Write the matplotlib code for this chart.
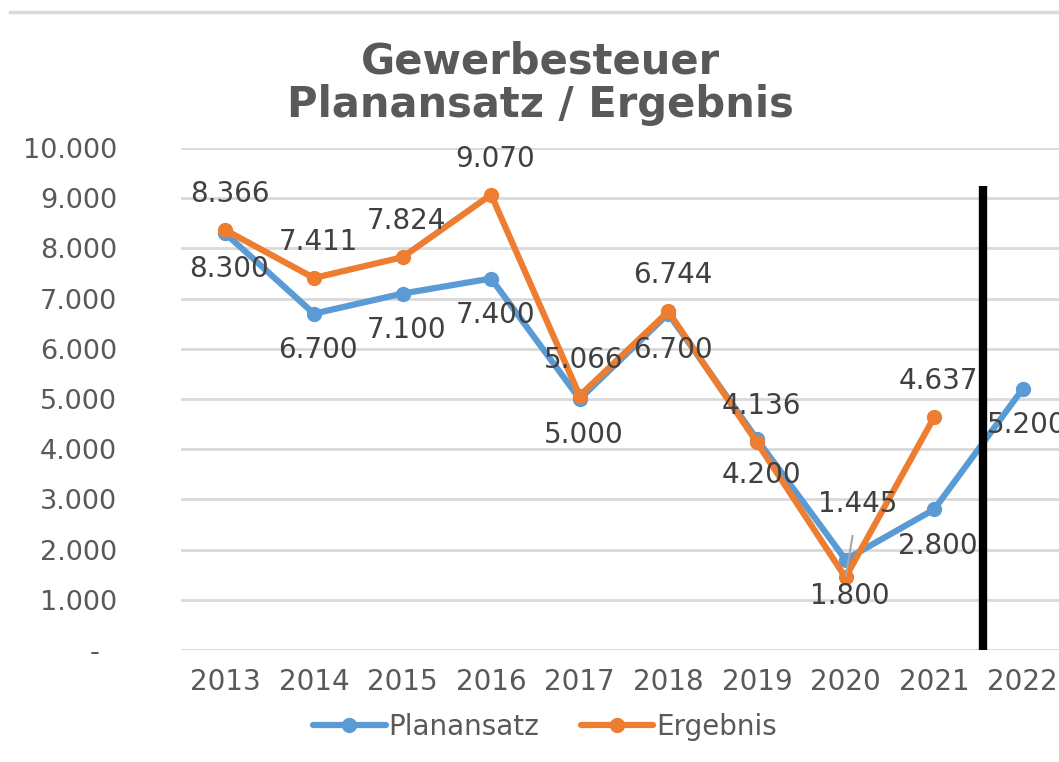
import matplotlib
matplotlib.use("Agg")
import matplotlib.pyplot as plt
from matplotlib.lines import Line2D

years = ["2013", "2014", "2015", "2016", "2017", "2018", "2019", "2020", "2021", "2022"]
planansatz = [8300, 6700, 7100, 7400, 5000, 6700, 4200, 1800, 2800, 5200]
ergebnis = [8366, 7411, 7824, 9070, 5066, 6744, 4136, 1445, 4637, None]
yticks = [0, 1000, 2000, 3000, 4000, 5000, 6000, 7000, 8000, 9000, 10000]
ytick_labels = ["-  ", "1.000", "2.000", "3.000", "4.000", "5.000",
                "6.000", "7.000", "8.000", "9.000", "10.000"]

BLUE = "#5B9BD5"
ORANGE = "#ED7D31"
GRID = "#D9D9D9"
TXT = "#595959"
LBL = "#404040"

plt.rcParams["font.family"] = ["DejaVu Sans"]

fig = plt.figure(figsize=(10.59, 7.62), dpi=100)
ax = fig.add_axes([181/1059, 112/762, 886/1059, 502/762])

x = list(range(len(years)))
ax.plot(x, planansatz, color=BLUE, lw=4.5, marker="o", ms=10, zorder=3,
        solid_capstyle="round", label="Planansatz")
xe = [i for i, v in enumerate(ergebnis) if v is not None]
ye = [v for v in ergebnis if v is not None]
ax.plot(xe, ye, color=ORANGE, lw=4.5, marker="o", ms=10, zorder=4,
        solid_capstyle="round", label="Ergebnis")

def fmt(v):
    return f"{v:,}".replace(",", ".")

for i, v in enumerate(planansatz):
    ax.annotate(fmt(v), (i, v), xytext=(3, -26), textcoords="offset points",
                ha="center", va="center", fontsize=20, color=LBL, zorder=5)
for i, v in zip(xe, ye):
    if years[i] == "2020":
        ax.annotate(fmt(v), (i, v), xytext=(9, 53), textcoords="offset points",
                    ha="center", va="center", fontsize=20, color=LBL, zorder=5,
                    arrowprops=dict(arrowstyle="-", color="#A6A6A6", lw=1.5,
                                    shrinkA=11, shrinkB=1))
    else:
        ax.annotate(fmt(v), (i, v), xytext=(3, 26), textcoords="offset points",
                    ha="center", va="center", fontsize=20, color=LBL, zorder=5)

# black divider between 2021 and 2022
ax.plot([8.55, 8.55], [0, 9250], color="black", lw=6, zorder=10,
        solid_capstyle="butt")

ax.set_xlim(-0.5, 9.5)
ax.set_ylim(0, 10000)
ax.set_xticks(x)
ax.set_xticklabels(years)
ax.set_yticks(yticks)
ax.set_yticklabels(ytick_labels)
ax.tick_params(axis="both", length=0, colors=TXT)
ax.tick_params(axis="y", labelsize=19.5, pad=46)
ax.tick_params(axis="x", labelsize=20, pad=13)
ax.grid(axis="y", color=GRID, lw=2)
ax.set_axisbelow(True)
for s in ax.spines.values():
    s.set_visible(False)

fig.text(540/1059, 1 - 62/762, "Gewerbesteuer", ha="center", va="center",
         fontsize=30, fontweight="bold", color=TXT)
fig.text(540/1059, 1 - 105/762, "Planansatz / Ergebnis", ha="center", va="center",
         fontsize=30, fontweight="bold", color=TXT)

fig.add_artist(Line2D([10/1059, 1], [1 - 12/762, 1 - 12/762], color=GRID, lw=2.5,
                      transform=fig.transFigure))

leg = fig.legend(handles=ax.get_lines()[:2], labels=["Planansatz", "Ergebnis"],
                 loc="center", bbox_to_anchor=(545/1059, 1 - 727/762), ncol=2,
                 frameon=False, fontsize=20, handlelength=2.6, handletextpad=0.1,
                 columnspacing=1.5)
for t in leg.get_texts():
    t.set_color(TXT)

fig.savefig("out.png", dpi=100)
